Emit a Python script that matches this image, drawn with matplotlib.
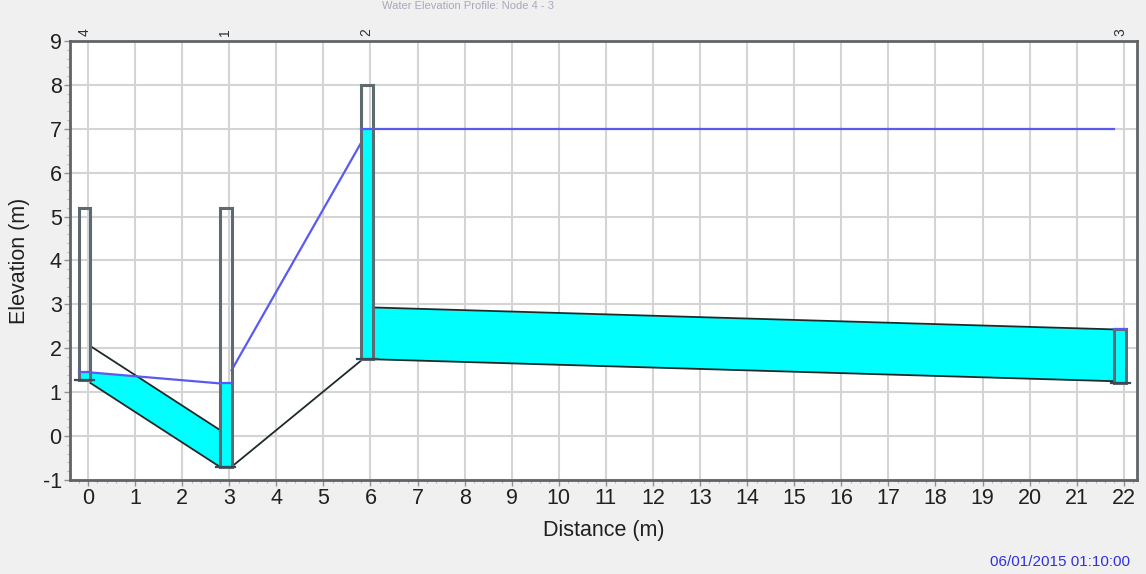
"""
SWMM water elevation profile: Node 4 - 3
"""

import matplotlib
matplotlib.use('Agg')
import numpy as np
import matplotlib.pyplot as plt
from matplotlib.patches import Rectangle
from matplotlib.ticker import MultipleLocator

plt.rcParams['font.family'] = ['Liberation Sans', 'DejaVu Sans']
plt.rcParams['axes.unicode_minus'] = False

# 데이터 ----------
node_names = ['4', '1', '2', '3']
node_dist = [0, 3, 6, 22]
node_invert = [1.28, -0.70, 1.75, 1.22]
node_top = [5.2, 5.2, 8.0, 2.44]
node_water = [1.45, 1.20, 7.0, 2.44]

# 관로 (상류/하류 관저, 관경, 수위)
link_up_invert = [1.21, -0.70, 1.75]
link_dn_invert = [-0.70, 1.72, 1.25]
link_diam = [0.84, 0.0, 1.18]
link_hgl_up = [1.45, 1.50, 7.0]
link_hgl_dn = [1.20, 6.68, 7.0]

x_ticks = list(range(0, 23))
y_ticks = list(range(-1, 10))
time_label = '06/01/2015 01:10:00'

# 스타일 ----------
bg = '#f0f0f0'
water = '#00ffff'
hgl_color = '#5a5af0'
pipe_color = '#1e2a2a'
node_edge = '#5f6a70'
node_w_left = 0.2
node_w_right = 0.05

fig = plt.figure(figsize=(11.46, 5.74), dpi=100, facecolor=bg)
ax = fig.add_axes([0.0611, 0.1638, 0.9310, 0.7648])
ax.set_facecolor('white')

ax.set_xlim(-0.382, 22.28)
ax.set_ylim(-1, 9)
ax.set_xticks(x_ticks)
ax.set_yticks(y_ticks)
ax.xaxis.set_minor_locator(MultipleLocator(0.2))
ax.yaxis.set_minor_locator(MultipleLocator(0.2))
ax.grid(True, which='major', color='#d4d4d4', linewidth=1.5, zorder=0)
ax.tick_params(which='major', length=4, width=1, color='#909090',
               labelsize=15.5, labelcolor='#202020', pad=2)
ax.tick_params(which='minor', length=2.5, width=0.8, color='#b8b8b8')
for s in ax.spines.values():
    s.set_color('#606468')
    s.set_linewidth(2)

# 관로 ----------
for i in range(len(link_up_invert)):
    x0 = node_dist[i] + node_w_right
    x1 = node_dist[i + 1] - node_w_left
    b0, b1 = link_up_invert[i], link_dn_invert[i]
    t0, t1 = b0 + link_diam[i], b1 + link_diam[i]
    if link_diam[i] > 0:
        xs = np.linspace(x0, x1, 200)
        f = (xs - x0) / (x1 - x0)
        bot = b0 + (b1 - b0) * f
        top = t0 + (t1 - t0) * f
        hgl = link_hgl_up[i] + (link_hgl_dn[i] - link_hgl_up[i]) * f
        surf = np.clip(hgl, bot, top)
        ax.fill_between(xs, bot, surf, color=water, linewidth=0, zorder=2)
        ax.plot([x0, x1], [t0, t1], color=pipe_color, lw=1.3, zorder=3)
    ax.plot([x0, x1], [b0, b1], color=pipe_color, lw=1.3, zorder=3)
    ax.plot([x0, x1], [link_hgl_up[i], link_hgl_dn[i]], color=hgl_color,
            lw=1.6, zorder=4)

# 맨홀 ----------
for i in range(len(node_names)):
    x = node_dist[i] - node_w_left
    w = node_w_left + node_w_right
    ax.add_patch(Rectangle((x, node_invert[i]), w, node_water[i] - node_invert[i],
                           facecolor=water, edgecolor='none', zorder=5))
    ax.add_patch(Rectangle((x, node_invert[i]), w, node_top[i] - node_invert[i],
                           facecolor='none', edgecolor=node_edge, lw=2.2, zorder=6))
    ax.plot([x, x + w], [node_water[i], node_water[i]], color=hgl_color,
            lw=1.6, zorder=7)
    ax.plot([x - 0.08, x + w + 0.08], [node_invert[i], node_invert[i]],
            color='#3a4a5a', lw=1.6, zorder=7)
    ax.text(node_dist[i] - 0.08, 9.12, node_names[i], rotation=90, ha='center',
            va='bottom', fontsize=10, color='#303030', clip_on=False)

ax.set_xlabel('Distance (m)', fontsize=15.5, color='#202020', labelpad=8)
ax.set_ylabel('Elevation (m)', fontsize=15.5, color='#202020', labelpad=9)

fig.text(468 / 1146, 1 - 1 / 574, 'Water Elevation Profile: Node 4 - 3', ha='center',
         va='top', fontsize=8, color='#a8a8bc')
fig.text(1130 / 1146, 1 - 562 / 574, time_label, ha='right', va='center',
         fontsize=11, color='#3030e0')

fig.savefig('out.png', dpi=100, facecolor=bg)
